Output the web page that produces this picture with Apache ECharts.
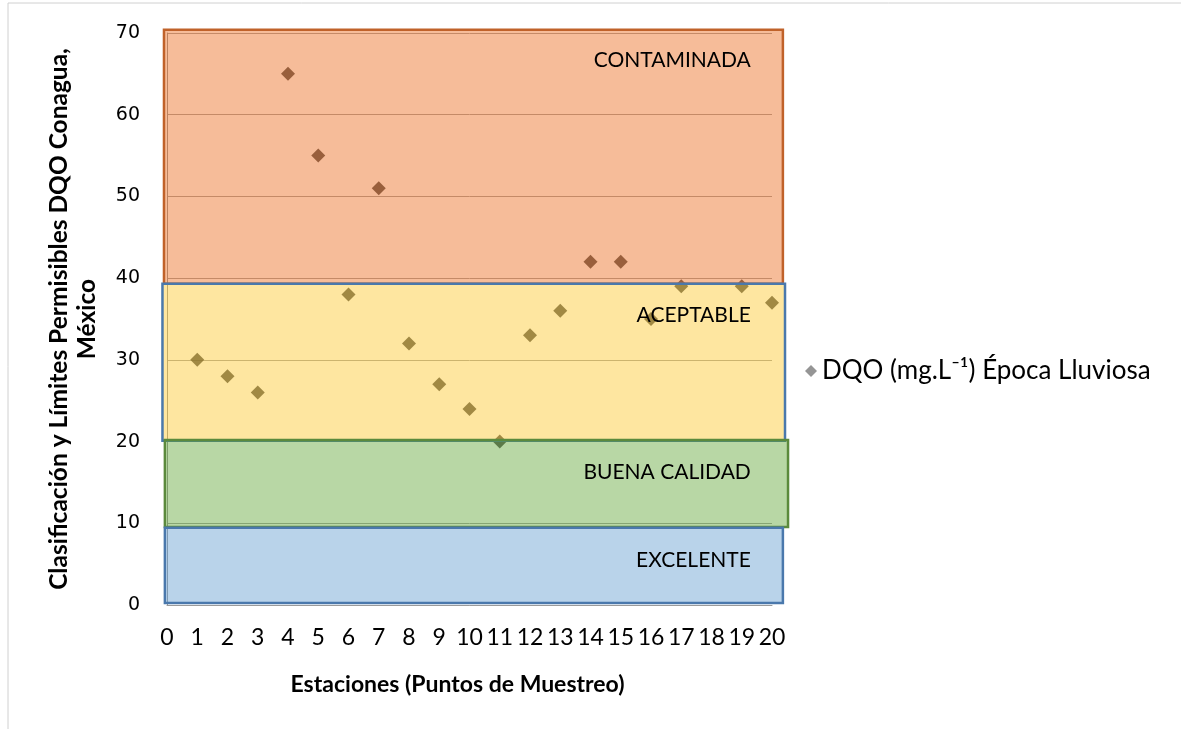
<!DOCTYPE html>
<html>
<head>
<meta charset="utf-8">
<script src="https://cdn.jsdelivr.net/npm/echarts@6/dist/echarts.min.js"></script>
<style>
  html, body { margin: 0; padding: 0; background: #fff; }
  #chart { width: 1181px; height: 729px; }
</style>
</head>
<body>
<div id="chart"></div>
<script>
// estaciones y valores DQO (la estación 18 no tiene dato)
const estaciones = [1, 2, 3, 4, 5, 6, 7, 8, 9, 10, 11, 12, 13, 14, 15, 16, 17, 19, 20];
const dqo = [30, 28, 26, 65, 55, 38, 51, 32, 27, 24, 20, 33, 36, 42, 42, 35, 39, 39, 37];

// franjas de clasificación Conagua: [x0, x1, y0, y1]
const franjaNombres = ['CONTAMINADA', 'ACEPTABLE', 'BUENA CALIDAD', 'EXCELENTE'];
const franjaLimites = [
  [-0.1, 20.36, 39.3, 70.4],
  [-0.15, 20.43, 20.1, 39.3],
  [-0.07, 20.53, 9.55, 20.2],
  [-0.07, 20.36, 0.25, 9.45]
];
const franjaEtiquetaY = [66.7, 35.5, 16.3, 5.5];
const franjaEtiquetaX = 19.3;

const rellenos = ['rgba(234,99,18,0.43)', 'rgba(252,197,34,0.43)', 'rgba(90,162,46,0.43)', 'rgba(92,152,206,0.43)'];
const bordes = ['#c0622a', '#4a78ac', '#5b8a3c', '#4a78ac'];

const serieNombre = 'DQO (mg.L\u207B\u00B9) \u00C9poca Lluviosa';

let myChart = echarts.init(document.getElementById('chart'));

let option = {
  animation: false,
  graphic: [{
    type: 'rect',
    shape: { x: 8, y: 3, width: 1300, height: 900 },
    style: { fill: 'none', stroke: '#d0d0d0', lineWidth: 1 },
    silent: true
  }],
  grid: {
    left: 167,
    right: 409,
    top: 33,
    bottom: 124
  },
  legend: {
    data: [{ name: serieNombre, itemStyle: { color: '#7a7a7a' } }],
    left: 800,
    top: 353,
    icon: 'diamond',
    itemWidth: 12,
    itemHeight: 12,
    itemGap: 6,
    textStyle: { fontFamily: 'Lato', fontSize: 26, color: '#000' }
  },
  xAxis: {
    type: 'value',
    min: 0,
    max: 20,
    interval: 1,
    name: 'Estaciones (Puntos de Muestreo)',
    nameLocation: 'middle',
    nameGap: 68,
    nameTextStyle: { fontFamily: 'Lato', fontSize: 23, fontWeight: 'bold', color: '#000', padding: [0, 24, 0, 0] },
    axisLine: { show: true, lineStyle: { color: '#9a9a9a', width: 1 } },
    axisTick: { show: false },
    axisLabel: { margin: 21, fontFamily: 'Lato', fontSize: 23, color: '#000' },
    splitLine: { show: false }
  },
  yAxis: {
    type: 'value',
    min: 0,
    max: 70,
    interval: 10,
    name: 'Clasificación y Límites Permisibles DQO Conagua,\nMéxico',
    nameLocation: 'middle',
    nameGap: 66,
    nameTextStyle: { fontFamily: 'Lato', fontSize: 24.5, fontWeight: 'bold', color: '#000', lineHeight: 28 },
    axisLine: { show: true, lineStyle: { color: '#9a9a9a', width: 1 } },
    axisTick: { show: false },
    axisLabel: { margin: 27, fontFamily: 'DejaVu Sans', fontSize: 19, color: '#000' },
    splitLine: { lineStyle: { color: '#a8a8a8', width: 1 } }
  },
  series: [
    {
      name: serieNombre,
      type: 'scatter',
      z: 2,
      symbol: 'diamond',
      symbolSize: 14,
      itemStyle: { color: '#333333' },
      data: estaciones.map((e, i) => [e, dqo[i]])
    },
    {
      name: 'franjas',
      type: 'custom',
      z: 3,
      silent: true,
      clip: false,
      data: franjaLimites.map((b, i) => [b[0], b[1], b[2], b[3], i]),
      renderItem: function (params, api) {
        const i = api.value(4);
        const p0 = api.coord([api.value(0), api.value(3)]);
        const p1 = api.coord([api.value(1), api.value(2)]);
        const t = api.coord([franjaEtiquetaX, franjaEtiquetaY[i]]);
        return {
          type: 'group',
          children: [
            {
              type: 'rect',
              shape: { x: p0[0], y: p0[1], width: p1[0] - p0[0], height: p1[1] - p0[1] },
              style: { fill: rellenos[i], stroke: bordes[i], lineWidth: 2.5 }
            },
            {
              type: 'text',
              x: t[0],
              y: t[1],
              style: {
                text: franjaNombres[i],
                fill: '#000',
                font: '21px Lato',
                align: 'right',
                verticalAlign: 'middle'
              }
            }
          ]
        };
      }
    }
  ]
};

myChart.setOption(option);
</script>
</body>
</html>
